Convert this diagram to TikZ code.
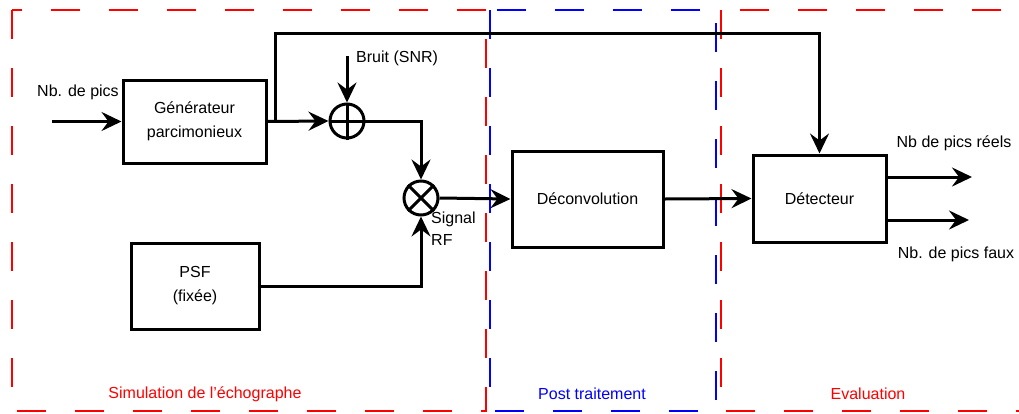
\documentclass[tikz,border=0pt]{standalone}
\usepackage{fontspec}
\setmainfont{Liberation Sans}
\usetikzlibrary{arrows.meta,calc}
\begin{document}
\begin{tikzpicture}[x=1pt,y=-1pt,
  font=\fontsize{16}{24}\selectfont,
  box/.style={draw=black,line width=3pt,rectangle,inner sep=0pt,align=center},
  sumnode/.style={draw=black,line width=3pt,circle,minimum size=34pt,inner sep=0pt},
  arr/.style={line width=3pt,-{Stealth[length=20pt,width=19pt,inset=7pt]}},
  wire/.style={line width=3pt},
  zone/.style={line width=2.6pt,dash pattern=on 29pt off 29pt},
  lbl/.style={inner sep=0pt}]
\useasboundingbox (0,0) rectangle (1019,413);
% zones
\draw[zone,red] (12,10) rectangle (486,411);
\draw[zone,blue] (490,10) rectangle (716,411);
\draw[zone,red] (721,10) rectangle (1040,411);
\node[lbl,text=red] (zs) at (205,394) {Simulation de l’échographe};
\node[lbl,text=blue] (zp) at (592,394) {Post traitement};
\node[lbl,text=red] (ze) at (868,394) {Evaluation};
% blocks
\node[box,minimum width=143pt,minimum height=83pt] (gen) at (194.5,121.5) {Générateur\\parcimonieux};
\node[box,minimum width=128pt,minimum height=86pt] (psf) at (195,286) {PSF\\(fixée)};
\node[box,minimum width=151pt,minimum height=96pt] (dec) at (587.5,199) {Déconvolution};
\node[box,minimum width=133pt,minimum height=87pt] (det) at (819.5,198.5) {Détecteur};
\node[sumnode] (add) at (347,121) {};
\node[sumnode] (mult) at (421,198) {};
\draw[wire] (add.north) -- (add.south);
\draw[wire] (add.west) -- (add.east);
\draw[wire] (mult.north west) -- (mult.south east);
\draw[wire] (mult.north east) -- (mult.south west);
% labels
\node[lbl,anchor=west] (lin) at (37,92) {Nb. de pics};
\node[lbl,anchor=west] (lnoise) at (356,58) {Bruit (SNR)};
\node[lbl,anchor=west,align=left,font=\fontsize{16}{22}\selectfont] (lsig) at (431,229) {Signal\\RF};
\node[lbl] (lo1) at (954,143) {Nb de pics réels};
\node[lbl] (lo2) at (956,254) {Nb. de pics faux};
% connectors
\coordinate (in) at (52,121.5);
\coordinate (br) at (275,121.5);
\coordinate (top) at (275,33);
\coordinate (noise) at (347,56);
\coordinate (o1) at (972,177);
\coordinate (o2) at (969,220);
\draw[arr] (in) -- (gen.west);
\draw[arr] (gen.east) -- (add.west);
\draw[arr] (br) -- (top) -| (det.north);
\draw[arr] (noise) -- (add.north);
\draw[arr] (add.east) -| (mult.north);
\draw[arr] (psf.east) -| (mult.south);
\draw[arr] (mult.east) -- (dec.west);
\draw[arr] (dec.east) -- (det.west);
\draw[arr] (det.east |- o1) -- (o1);
\draw[arr] (det.east |- o2) -- (o2);
\end{tikzpicture}
\end{document}
